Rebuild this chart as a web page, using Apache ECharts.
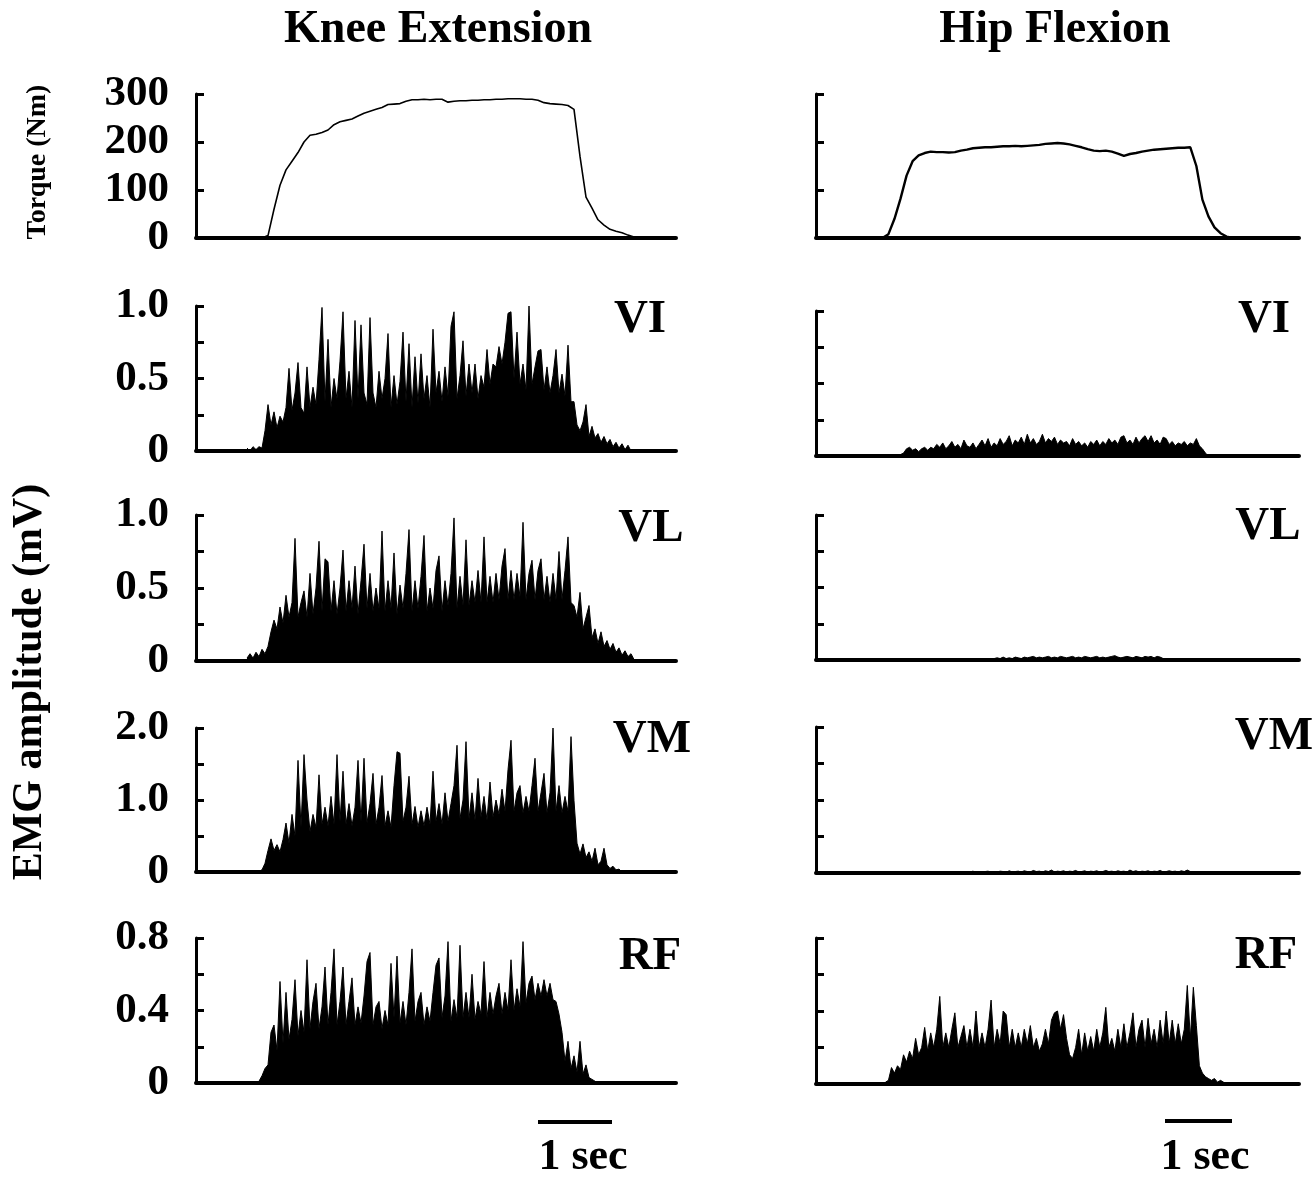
<!DOCTYPE html>
<html>
<head>
<meta charset="utf-8">
<title>Torque and EMG</title>
<script src="https://cdn.jsdelivr.net/npm/echarts@6/dist/echarts.min.js"></script>
<style>
html, body { margin: 0; padding: 0; background: #fff; }
#main { width: 1314px; height: 1177px; }
</style>
</head>
<body>
<div id="main"></div>
<script>
/*#############  data  ###############*/
var columns = ["Knee Extension", "Hip Flexion"];
var muscles = ["VI", "VL", "VM", "RF"];
var sampleMax = 160; // x axis in samples (~3 px each)

// tick labels (only the left column shows them)
var torqueTicks = ["0", "100", "200", "300"];
var viTicks = ["0", "", "0.5", "", "1.0"];
var vlTicks = ["0", "", "0.5", "", "1.0"];
var vmTicks = ["0", "", "1.0", "", "2.0"];
var rfTicks = ["0", "", "0.4", "", "0.8"];
var axisMax = [300, 1.0, 1.0, 2.0, 0.8];

// torque (Nm), one value every 2 samples
var kneeTorqueStart = 22;
var kneeTorque = [
  0, 5, 60, 110, 142, 160, 178, 200, 214, 216,
  220, 225, 236, 242, 245, 248, 254, 260, 264, 268,
  272, 278, 279, 280, 285, 288, 288, 289, 288, 289,
  289, 283, 285, 286, 286, 287, 287, 288, 288, 289,
  289, 290, 290, 290, 289, 289, 287, 282, 280, 279,
  278, 276, 268, 170, 85, 62, 38, 27, 18, 14,
  11, 6, 2, 0
];
var hipTorqueStart = 22;
var hipTorque = [
  0, 8, 40, 82, 130, 160, 172, 177, 180, 179,
  179, 178, 179, 182, 184, 187, 188, 189, 189, 190,
  191, 191, 192, 191, 192, 193, 194, 196, 197, 198,
  197, 195, 192, 189, 185, 182, 181, 182, 180, 176,
  171, 175, 177, 180, 182, 184, 185, 186, 187, 188,
  188, 189, 150, 80, 45, 22, 10, 3, 0
];

// EMG amplitude (mV), one value per sample
var kneeVIStart = 17;
var kneeVI = [
  0.02, 0.0, 0.03, 0.01, 0.03, 0.02, 0.14, 0.32, 0.18, 0.27,
  0.16, 0.24, 0.2, 0.3, 0.57, 0.28, 0.4, 0.61, 0.3, 0.26,
  0.58, 0.3, 0.44, 0.32, 0.63, 0.99, 0.34, 0.77, 0.3, 0.5,
  0.36, 0.62, 0.96, 0.36, 0.55, 0.3, 0.9, 0.36, 0.87, 0.4,
  0.32, 0.92, 0.4, 0.3, 0.55, 0.36, 0.5, 0.81, 0.3, 0.52,
  0.32, 0.48, 0.82, 0.34, 0.74, 0.3, 0.65, 0.33, 0.67, 0.36,
  0.52, 0.3, 0.84, 0.4, 0.55, 0.34, 0.58, 0.38, 0.86, 0.96,
  0.36, 0.52, 0.76, 0.38, 0.6, 0.4, 0.6, 0.36, 0.52, 0.44,
  0.7, 0.46, 0.6, 0.58, 0.72, 0.6, 0.75, 0.95, 0.96, 0.5,
  0.82, 0.46, 0.6, 0.42, 1.0, 0.46, 0.58, 0.69, 0.7, 0.42,
  0.58, 0.4, 0.52, 0.7, 0.4, 0.53, 0.38, 0.73, 0.34, 0.34,
  0.18, 0.14, 0.2, 0.32, 0.1, 0.17, 0.09, 0.12, 0.06, 0.1,
  0.05, 0.08, 0.03, 0.06, 0.02, 0.05, 0.01, 0.04, 0.0
];
var kneeVLStart = 17;
var kneeVL = [
  0.02, 0.05, 0.02, 0.06, 0.03, 0.08, 0.05, 0.1, 0.2, 0.28,
  0.22, 0.37, 0.26, 0.45, 0.3, 0.4, 0.84, 0.3, 0.4, 0.48,
  0.3, 0.6, 0.32, 0.5, 0.82, 0.34, 0.7, 0.68, 0.34, 0.55,
  0.32, 0.5, 0.76, 0.34, 0.55, 0.36, 0.65, 0.32, 0.55, 0.8,
  0.36, 0.6, 0.34, 0.5, 0.36, 0.89, 0.34, 0.55, 0.36, 0.74,
  0.32, 0.52, 0.36, 0.6, 0.9, 0.34, 0.55, 0.36, 0.58, 0.86,
  0.34, 0.5, 0.36, 0.62, 0.72, 0.34, 0.55, 0.38, 0.6, 0.98,
  0.36, 0.58, 0.38, 0.83, 0.38, 0.55, 0.4, 0.62, 0.4, 0.85,
  0.4, 0.58, 0.4, 0.6, 0.42, 0.65, 0.77, 0.42, 0.62, 0.42,
  0.6, 0.44, 0.95, 0.42, 0.6, 0.69, 0.42, 0.62, 0.7, 0.42,
  0.58, 0.4, 0.6, 0.42, 0.75, 0.42, 0.62, 0.85, 0.4, 0.38,
  0.3, 0.47, 0.22, 0.3, 0.38, 0.16, 0.22, 0.12, 0.2, 0.1,
  0.14, 0.08, 0.12, 0.06, 0.09, 0.04, 0.07, 0.03, 0.05, 0.01
];
var kneeVMStart = 20;
var kneeVM = [
  0.02, 0.01, 0.03, 0.12, 0.3, 0.46, 0.3, 0.38, 0.28, 0.45,
  0.68, 0.4, 0.8, 0.5, 1.55, 0.62, 1.63, 1.0, 0.56, 0.8,
  0.62, 1.35, 0.66, 0.9, 0.64, 1.05, 0.66, 1.63, 0.7, 1.4,
  0.66, 0.95, 0.64, 0.9, 1.55, 0.7, 1.58, 0.68, 0.95, 1.37,
  0.66, 0.9, 1.34, 0.64, 0.85, 0.62, 1.2, 1.67, 1.65, 0.7,
  0.9, 1.33, 0.66, 0.91, 0.62, 0.85, 0.64, 0.9, 0.66, 1.4,
  0.7, 0.95, 0.66, 1.1, 0.7, 0.95, 1.2, 1.76, 0.74, 1.0,
  1.81, 0.74, 1.1, 0.72, 1.3, 0.76, 1.05, 0.72, 1.25, 0.76,
  1.0, 0.8, 1.15, 0.84, 1.42, 1.83, 0.84, 1.1, 1.2, 0.82,
  1.05, 0.84, 1.2, 1.58, 0.84, 1.1, 1.37, 0.82, 1.1, 2.0,
  0.84, 1.2, 0.82, 1.05, 0.84, 1.88, 0.99, 0.4, 0.25, 0.39,
  0.2, 0.28, 0.15, 0.33, 0.1, 0.15, 0.33, 0.1, 0.05, 0.08,
  0.03, 0.04, 0.0
];
var kneeRFStart = 21;
var kneeRF = [
  0.01, 0.04, 0.08, 0.1, 0.28, 0.32, 0.18, 0.56, 0.22, 0.5,
  0.24, 0.35, 0.57, 0.26, 0.4, 0.28, 0.68, 0.3, 0.45, 0.55,
  0.3, 0.42, 0.64, 0.32, 0.5, 0.74, 0.32, 0.45, 0.64, 0.32,
  0.45, 0.58, 0.32, 0.42, 0.33, 0.48, 0.67, 0.72, 0.32, 0.42,
  0.45, 0.3, 0.4, 0.32, 0.66, 0.36, 0.7, 0.33, 0.45, 0.32,
  0.5, 0.74, 0.34, 0.45, 0.5, 0.32, 0.42, 0.34, 0.5, 0.65,
  0.69, 0.36, 0.48, 0.78, 0.34, 0.46, 0.36, 0.76, 0.36, 0.5,
  0.36, 0.6, 0.35, 0.45, 0.38, 0.67, 0.36, 0.5, 0.38, 0.48,
  0.55, 0.38, 0.5, 0.4, 0.68, 0.4, 0.52, 0.42, 0.78, 0.44,
  0.55, 0.59, 0.46, 0.55, 0.48, 0.57, 0.48, 0.55, 0.46, 0.45,
  0.38, 0.28, 0.12, 0.23, 0.08, 0.15, 0.06, 0.23, 0.05, 0.1,
  0.03, 0.02, 0.01
];
var hipVIStart = 28;
var hipVI = [
  0.01, 0.02, 0.05, 0.06, 0.04, 0.05, 0.03, 0.05, 0.06, 0.04,
  0.06, 0.05, 0.08, 0.06, 0.09, 0.05, 0.07, 0.1, 0.06, 0.08,
  0.05, 0.11, 0.07, 0.06, 0.09, 0.05, 0.08, 0.11, 0.07, 0.12,
  0.06, 0.09, 0.07, 0.12, 0.08, 0.1, 0.14, 0.07, 0.11, 0.09,
  0.13, 0.08, 0.15, 0.09, 0.12, 0.08, 0.1, 0.15, 0.09, 0.12,
  0.1, 0.13, 0.08, 0.11, 0.09, 0.1, 0.07, 0.12, 0.08, 0.1,
  0.07, 0.09, 0.06, 0.1, 0.08, 0.11, 0.07, 0.1, 0.08, 0.12,
  0.09, 0.11, 0.08, 0.13, 0.14, 0.09, 0.11, 0.08, 0.13, 0.09,
  0.12, 0.14, 0.1, 0.14, 0.09, 0.11, 0.08, 0.13, 0.12, 0.08,
  0.1, 0.07, 0.09, 0.08, 0.1, 0.07, 0.09, 0.08, 0.12, 0.07,
  0.05, 0.02, 0.0
];
var hipVLStart = 59;
var hipVL = [
  0.01, 0.015, 0.01, 0.02, 0.01, 0.015, 0.01, 0.02, 0.015, 0.01,
  0.02, 0.015, 0.02, 0.025, 0.015, 0.02, 0.015, 0.02, 0.025, 0.015,
  0.02, 0.015, 0.025, 0.02, 0.015, 0.02, 0.025, 0.015, 0.02, 0.015,
  0.025, 0.02, 0.015, 0.02, 0.025, 0.015, 0.02, 0.015, 0.02, 0.025,
  0.03, 0.02, 0.015, 0.02, 0.025, 0.02, 0.015, 0.025, 0.02, 0.015,
  0.025, 0.02, 0.025, 0.015, 0.025, 0.02, 0.01, 0.0
];
var hipVMStart = 30;
var hipVM = [
  0.01, 0.02, 0.01, 0.015, 0.01, 0.02, 0.01, 0.015, 0.02, 0.01,
  0.015, 0.02, 0.01, 0.02, 0.015, 0.01, 0.02, 0.015, 0.02, 0.01,
  0.02, 0.015, 0.025, 0.01, 0.02, 0.015, 0.02, 0.025, 0.01, 0.02,
  0.015, 0.025, 0.02, 0.01, 0.03, 0.015, 0.02, 0.025, 0.015, 0.03,
  0.02, 0.015, 0.035, 0.02, 0.025, 0.015, 0.03, 0.02, 0.04, 0.015,
  0.025, 0.02, 0.03, 0.015, 0.025, 0.02, 0.035, 0.015, 0.02, 0.03,
  0.015, 0.025, 0.02, 0.03, 0.015, 0.02, 0.035, 0.02, 0.025, 0.015,
  0.03, 0.02, 0.025, 0.015, 0.04, 0.02, 0.03, 0.015, 0.025, 0.02,
  0.03, 0.015, 0.025, 0.02, 0.035, 0.015, 0.02, 0.03, 0.02, 0.025,
  0.015, 0.03, 0.02, 0.04, 0.02, 0.0
];
var hipRFStart = 23;
var hipRF = [
  0.01, 0.02, 0.09, 0.06, 0.1, 0.08, 0.16, 0.12, 0.18, 0.14,
  0.25, 0.16, 0.2, 0.31, 0.18, 0.28, 0.2, 0.3, 0.48, 0.2,
  0.28, 0.2, 0.3, 0.39, 0.2, 0.26, 0.32, 0.2, 0.3, 0.2,
  0.4, 0.2, 0.28, 0.2, 0.3, 0.46, 0.2, 0.3, 0.22, 0.4,
  0.38, 0.2, 0.3, 0.2, 0.28, 0.2, 0.3, 0.22, 0.32, 0.2,
  0.25, 0.18, 0.22, 0.3, 0.22, 0.35, 0.39, 0.4, 0.3, 0.38,
  0.25, 0.16, 0.14, 0.2, 0.3, 0.16, 0.28, 0.18, 0.26, 0.18,
  0.3, 0.2, 0.28, 0.42, 0.2, 0.25, 0.18, 0.3, 0.2, 0.33,
  0.2, 0.28, 0.39, 0.2, 0.3, 0.35, 0.2, 0.36, 0.22, 0.3,
  0.2, 0.35, 0.22, 0.4, 0.22, 0.35, 0.22, 0.33, 0.22, 0.3,
  0.54, 0.25, 0.53, 0.32, 0.1, 0.06, 0.04, 0.03, 0.02, 0.03,
  0.01, 0.02, 0.01, 0.0
];

/*#############  layout  ###############*/
var serif = '"Liberation Serif", "Times New Roman", serif';
var colLeft = [196, 816];
var colWidth = [480, 483];
var rowTop = [[94, 306, 515, 728, 938], [94, 311, 515, 727, 938]];
var rowBottom = [[238, 451, 661, 872, 1083], [238, 456, 660, 873, 1084]];

var traces = [
  [
    { values: kneeTorque, start: kneeTorqueStart, step: 2 },
    { values: kneeVI, start: kneeVIStart, step: 1 },
    { values: kneeVL, start: kneeVLStart, step: 1 },
    { values: kneeVM, start: kneeVMStart, step: 1 },
    { values: kneeRF, start: kneeRFStart, step: 1 },
  ],
  [
    { values: hipTorque, start: hipTorqueStart, step: 2 },
    { values: hipVI, start: hipVIStart, step: 1 },
    { values: hipVL, start: hipVLStart, step: 1 },
    { values: hipVM, start: hipVMStart, step: 1 },
    { values: hipRF, start: hipRFStart, step: 1 },
  ],
];
var tickSets = [torqueTicks, viTicks, vlTicks, vmTicks, rfTicks];

var grids = [];
var xAxes = [];
var yAxes = [];
var series = [];

for (var c = 0; c < 2; c++) {
  for (var r = 0; r < 5; r++) {
    var idx = grids.length;
    var ticks = tickSets[r];
    var interval = axisMax[r] / (ticks.length - 1);
    grids.push({
      left: colLeft[c],
      width: colWidth[c],
      top: rowTop[c][r],
      height: rowBottom[c][r] - rowTop[c][r],
    });
    xAxes.push({
      gridIndex: idx,
      type: "value",
      min: 0,
      max: sampleMax,
      axisLine: { show: true, lineStyle: { color: "#000", width: 4 } },
      axisTick: { show: false },
      axisLabel: { show: false },
      splitLine: { show: false },
    });
    yAxes.push({
      gridIndex: idx,
      type: "value",
      min: 0,
      max: axisMax[r],
      interval: interval,
      axisLine: { show: true, lineStyle: { color: "#000", width: 3 } },
      axisTick: { show: true, inside: true, length: 8, lineStyle: { color: "#000", width: 3 } },
      splitLine: { show: false },
      axisLabel: {
        show: c === 0,
        margin: 27,
        color: "#000",
        fontFamily: serif,
        fontWeight: "bold",
        fontSize: 43,
        showMinLabel: true,
        showMaxLabel: true,
        formatter: (function (t, step) {
          return function (v) {
            return t[Math.round(v / step)] || "";
          };
        })(ticks, interval),
      },
    });
    var tr = traces[c][r];
    var pts = tr.values.map(function (v, k) {
      return [tr.start + k * tr.step, v];
    });
    if (r === 0) {
      series.push({
        type: "line",
        xAxisIndex: idx,
        yAxisIndex: idx,
        data: pts,
        showSymbol: false,
        lineStyle: { color: "#000", width: c === 0 ? 1.6 : 2.4 },
      });
    } else {
      series.push({
        type: "line",
        xAxisIndex: idx,
        yAxisIndex: idx,
        data: pts,
        showSymbol: false,
        lineStyle: { color: "#000", width: 1 },
        areaStyle: { color: "#000", opacity: 1 },
      });
    }
  }
}

/*#############  text and scale bars  ###############*/
var labelPos = [
  [[640, 320], [651, 529], [652, 740], [650, 957]],
  [[1264, 320], [1268, 527], [1274, 737], [1266, 956]],
];
var graphics = [];
function addText(text, x, y, size, rot) {
  graphics.push({
    type: "text",
    x: x,
    y: y,
    rotation: rot || 0,
    style: {
      text: text,
      fill: "#000",
      font: "bold " + size + "px " + serif,
      textAlign: "center",
      textVerticalAlign: "middle",
    },
  });
}
addText(columns[0], 438, 30, 46);
addText(columns[1], 1055, 30, 46);
for (var c2 = 0; c2 < 2; c2++) {
  for (var m = 0; m < muscles.length; m++) {
    addText(muscles[m], labelPos[c2][m][0], labelPos[c2][m][1], 47);
  }
}
addText("Torque (Nm)", 38, 162, 28, Math.PI / 2);
addText("EMG amplitude (mV)", 30, 682, 42, Math.PI / 2);
addText("1 sec", 583, 1158, 44);
addText("1 sec", 1205, 1158, 44);
graphics.push({ type: "line", shape: { x1: 538, y1: 1122, x2: 612, y2: 1122 }, style: { stroke: "#000", lineWidth: 4 } });
graphics.push({ type: "line", shape: { x1: 1165, y1: 1121, x2: 1232, y2: 1121 }, style: { stroke: "#000", lineWidth: 4 } });

var myChart = echarts.init(document.getElementById("main"));
var option = {
  animation: false,
  backgroundColor: "#fff",
  grid: grids,
  xAxis: xAxes,
  yAxis: yAxes,
  series: series,
  graphic: graphics,
};
myChart.setOption(option, true);
</script>
</body>
</html>
